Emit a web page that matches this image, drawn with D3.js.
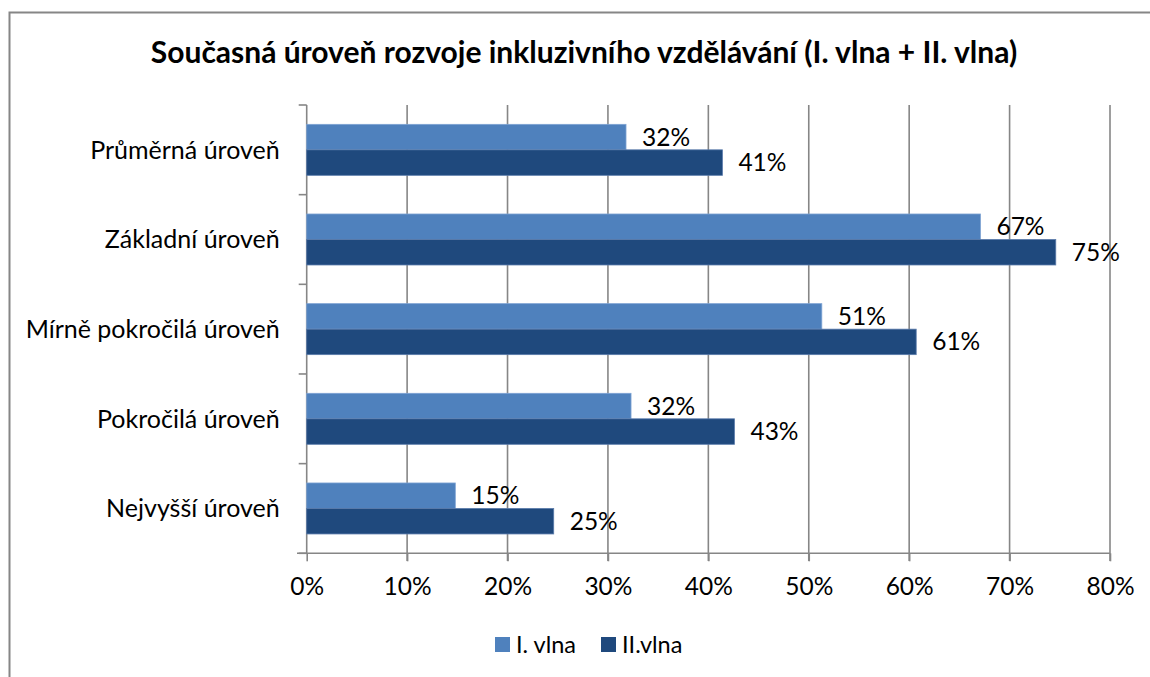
<!DOCTYPE html>
<html>
<head>
<meta charset="utf-8">
<script src="https://cdnjs.cloudflare.com/ajax/libs/d3/7.8.5/d3.min.js"></script>
<style>
  html, body { margin: 0; padding: 0; background: #fff; }
  svg { display: block; }
  text { font-family: Lato, "Open Sans", sans-serif; fill: #000; }
</style>
</head>
<body>
<svg id="chart" width="1150" height="677"></svg>
<script>
const title = "Současná úroveň rozvoje inkluzivního vzdělávání (I. vlna + II. vlna)";
const categories = ["Průměrná úroveň", "Základní úroveň", "Mírně pokročilá úroveň", "Pokročilá úroveň", "Nejvyšší úroveň"];
const seriesNames = ["I. vlna", "II.vlna"];
const wave1 = [31.8, 67.1, 51.3, 32.3, 14.8];
const wave2 = [41.4, 74.6, 60.7, 42.6, 24.6];
const xTicks = [0, 10, 20, 30, 40, 50, 60, 70, 80];
const colors = ["#4F81BD", "#1F497D"];

const svg = d3.select("#chart");

// chart border (left + top visible)
svg.append("rect").attr("x", 9.5).attr("y", 12.5).attr("width", 1160).attr("height", 700)
  .attr("fill", "none").attr("stroke", "#868686").attr("stroke-width", 2);

svg.append("text").attr("x", 584).attr("y", 63).attr("text-anchor", "middle")
  .style("font-size", "30px").style("font-weight", "bold").text(title);

const x = d3.scaleLinear().domain([0, 80]).range([306.7, 1110]);
const y = d3.scaleBand().domain(categories).range([105, 553.3]).padding(0);
const inner = d3.scaleBand().domain(seriesNames).range([0, 51]);
const bandOffset = (y.bandwidth() - 51) / 2;

// gridlines
svg.append("g").selectAll("line").data(xTicks.slice(1)).join("line")
  .attr("x1", d => x(d)).attr("x2", d => x(d)).attr("y1", 105).attr("y2", 561)
  .attr("stroke", "#868686").attr("stroke-width", 1.6);

// x axis
const xAxis = svg.append("g").attr("transform", "translate(0,553.3)")
  .call(d3.axisBottom(x).tickValues(xTicks).tickFormat(d => d + "%").tickSize(8).tickPadding(16));
xAxis.select(".domain").attr("stroke", "#868686").attr("stroke-width", 1.6).attr("d", "M297,0H1110");
xAxis.selectAll(".tick line").attr("stroke", "#868686").attr("stroke-width", 1.6);
xAxis.selectAll(".tick text").style("font-size", "24.5px").style("font-family", "Lato, 'Open Sans', sans-serif").attr("fill", "#000");

// y axis
const yEdges = categories.map(c => y(c)).concat([553.3]);
const yAxis = svg.append("g").attr("transform", "translate(306.7,0)");
yAxis.append("line").attr("x1", 0).attr("x2", 0).attr("y1", 105).attr("y2", 553.3)
  .attr("stroke", "#868686").attr("stroke-width", 1.6);
yAxis.selectAll("line.t").data(yEdges).join("line").attr("class", "t")
  .attr("x1", -8).attr("x2", 0).attr("y1", d => d).attr("y2", d => d)
  .attr("stroke", "#868686").attr("stroke-width", 1.6);
yAxis.selectAll("text").data(categories).join("text")
  .attr("x", -27).attr("y", d => y(d) + y.bandwidth() / 2).attr("dy", "0.35em")
  .attr("text-anchor", "end").style("font-size", "25px").text(d => d);

// bars
const seriesData = [wave1, wave2];
seriesData.forEach((vals, si) => {
  const g = svg.append("g");
  g.selectAll("rect").data(vals).join("rect")
    .attr("x", x(0))
    .attr("y", (d, i) => y(categories[i]) + bandOffset + inner(seriesNames[si]))
    .attr("width", d => x(d) - x(0))
    .attr("height", inner.bandwidth())
    .attr("fill", colors[si])
    .attr("stroke", si === 0 ? "#7ea3d3" : "#5a7bab").attr("stroke-width", 0.8);
  g.selectAll("text").data(vals).join("text")
    .attr("x", d => x(d) + 16)
    .attr("y", (d, i) => y(categories[i]) + bandOffset + inner(seriesNames[si]) + inner.bandwidth() / 2)
    .attr("dy", "0.35em").style("font-size", "24.5px")
    .text(d => Math.round(d) + "%");
});

// legend
const legend = svg.append("g");
const legendX = [495, 601];
seriesNames.forEach((n, i) => {
  legend.append("rect").attr("x", legendX[i]).attr("y", 637).attr("width", 15).attr("height", 15).attr("fill", colors[i]);
  legend.append("text").attr("x", legendX[i] + 21).attr("y", 644.5).attr("dy", "0.35em")
    .style("font-size", "23.5px").text(n);
});
</script>
</body>
</html>
